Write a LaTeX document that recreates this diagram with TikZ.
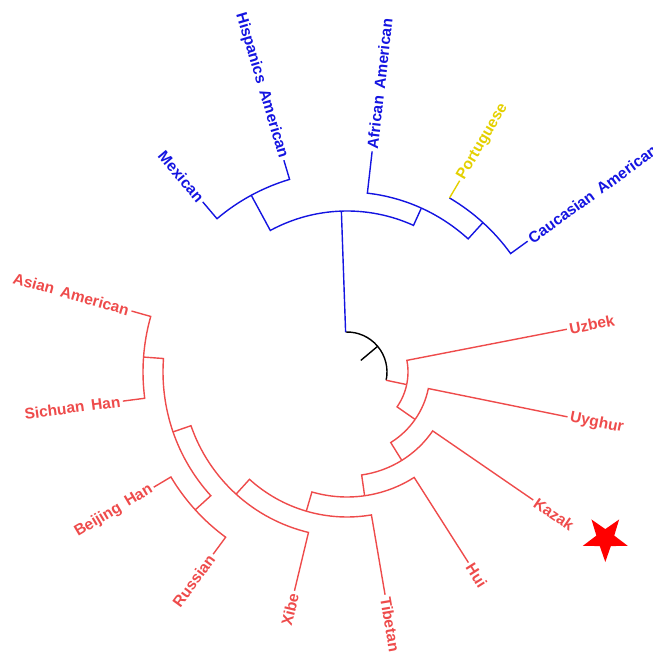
\documentclass[tikz,border=0pt]{standalone}
\usepackage{fontspec}
\setmainfont{Liberation Sans}[WordSpace=1.6]
\usetikzlibrary{shapes.geometric}
\definecolor{treeblue}{RGB}{20,20,225}
\definecolor{treered}{RGB}{238,75,75}
\definecolor{treeyellow}{RGB}{228,208,0}
\tikzset{
  lab/.style={font=\bfseries\fontsize{15.5}{18}\selectfont, inner sep=2pt},
}
\begin{document}
\begin{tikzpicture}[x=1pt,y=1pt,line width=1.4pt]
\useasboundingbox (-347,-281) rectangle (306,372);

% leaf labels
\node[lab, treeblue, anchor=east, rotate=-49.7] (mexican) at (130.3:223) {Mexican};
\node[lab, treeblue, anchor=east, rotate=-73.4] (hispanic) at (106.6:221) {Hispanics American};
\node[lab, treeblue, anchor=west, rotate=83.5] (african) at (83.5:222) {African American};
\node[lab, treeyellow, anchor=west, rotate=59.5] (portuguese) at (59.5:222) {Portuguese};
\node[lab, treeblue, anchor=west, rotate=35.9] (caucasian) at (35.9:223) {Caucasian American};
\node[lab, treered, anchor=west, rotate=11] (uzbek) at (11:224) {Uzbek};
\node[lab, treered, anchor=west, rotate=-11.5] (uyghur) at (-11.5:225) {Uyghur};
\node[lab, treered, anchor=west, rotate=-34.5] (kazak) at (-34.5:226) {Kazak};
\node[lab, treered, anchor=west, rotate=-57.5] (hui) at (-57.5:226) {Hui};
\node[lab, treered, anchor=west, rotate=-80.3] (tibetan) at (-80.3:226) {Tibetan};
\node[lab, treered, anchor=east, rotate=76.5] (xibe) at (-103.5:225) {Xibe};
\node[lab, treered, anchor=east, rotate=53.7] (russian) at (233.7:226) {Russian};
\node[lab, treered, anchor=east, rotate=30.8] (beijing) at (210.8:225) {Beijing Han};
\node[lab, treered, anchor=east, rotate=7.4] (sichuan) at (187.4:226) {Sichuan Han};
\node[lab, treered, anchor=east, rotate=-15.8] (asian) at (164.2:224) {Asian American};

\node[star, star points=5, star point ratio=2.5, fill=red, minimum size=47pt,
  inner sep=0pt, shape border rotate=180] (kazakstar) at (258.3,-166.5) {};

% root
\coordinate (root) at (40:18);
\coordinate (r0) at (40:40);
\draw (root) -- (r0);
\draw (r0) arc[start angle=40, end angle=92, radius=40] coordinate (r0b);
\draw (r0) arc[start angle=40, end angle=-11.9, radius=40] coordinate (r0r);

% blue clade
\coordinate (b1) at (92:161);
\coordinate (b2) at (118.45:201);
\coordinate (b3) at (65.6:180);
\coordinate (b4) at (47.7:202);
\begin{scope}[treeblue]
\draw (r0b) -- (b1);
\draw (b1) arc[start angle=92, end angle=118.45, radius=161] -- (b2);
\draw (b1) arc[start angle=92, end angle=65.6, radius=161] -- (b3);
\draw (b2) arc[start angle=118.45, end angle=130.3, radius=201] -- (mexican.east);
\draw (b2) arc[start angle=118.45, end angle=106.6, radius=201] -- (hispanic.east);
\draw (b3) arc[start angle=65.6, end angle=83.5, radius=180] -- (african.west);
\draw (b3) arc[start angle=65.6, end angle=47.7, radius=180] -- (b4);
\draw (b4) arc[start angle=47.7, end angle=35.9, radius=202] -- (caucasian.west);
\draw (b4) arc[start angle=47.7, end angle=59.5, radius=202] coordinate (b4p);
\draw[treeyellow] (b4p) -- (portuguese.west);
\end{scope}

% red clade
\coordinate (n1) at (-11.9:61);
\coordinate (n2) at (-34.85:83);
\coordinate (n3) at (-58.2:104);
\coordinate (n4) at (-81.9:125);
\coordinate (n5) at (-106.3:145);
\coordinate (n6) at (-132.25:165);
\coordinate (n7) at (199:184);
\coordinate (n8) at (175.8:204);
\coordinate (n9) at (222.25:205);
\begin{scope}[treered]
\draw (r0r) -- (n1);
\draw (n1) arc[start angle=-11.9, end angle=11, radius=61] -- (uzbek.west);
\draw (n1) arc[start angle=-11.9, end angle=-34.85, radius=61] -- (n2);
\draw (n2) arc[start angle=-34.85, end angle=-11.5, radius=83] -- (uyghur.west);
\draw (n2) arc[start angle=-34.85, end angle=-58.2, radius=83] -- (n3);
\draw (n3) arc[start angle=-58.2, end angle=-34.5, radius=104] -- (kazak.west);
\draw (n3) arc[start angle=-58.2, end angle=-81.9, radius=104] -- (n4);
\draw (n4) arc[start angle=-81.9, end angle=-57.5, radius=125] -- (hui.west);
\draw (n4) arc[start angle=-81.9, end angle=-106.3, radius=125] -- (n5);
\draw (n5) arc[start angle=-106.3, end angle=-80.3, radius=145] -- (tibetan.west);
\draw (n5) arc[start angle=-106.3, end angle=-132.25, radius=145] -- (n6);
\draw (n6) arc[start angle=-132.25, end angle=-103.5, radius=165] -- (xibe.east);
\draw (n6) arc[start angle=-132.25, end angle=-161, radius=165] -- (n7);
\draw (n7) arc[start angle=199, end angle=175.8, radius=184] -- (n8);
\draw (n7) arc[start angle=199, end angle=222.25, radius=184] -- (n9);
\draw (n8) arc[start angle=175.8, end angle=164.2, radius=204] -- (asian.east);
\draw (n8) arc[start angle=175.8, end angle=187.4, radius=204] -- (sichuan.east);
\draw (n9) arc[start angle=222.25, end angle=210.8, radius=205] -- (beijing.east);
\draw (n9) arc[start angle=222.25, end angle=233.7, radius=205] -- (russian.east);
\end{scope}
\end{tikzpicture}
\end{document}
